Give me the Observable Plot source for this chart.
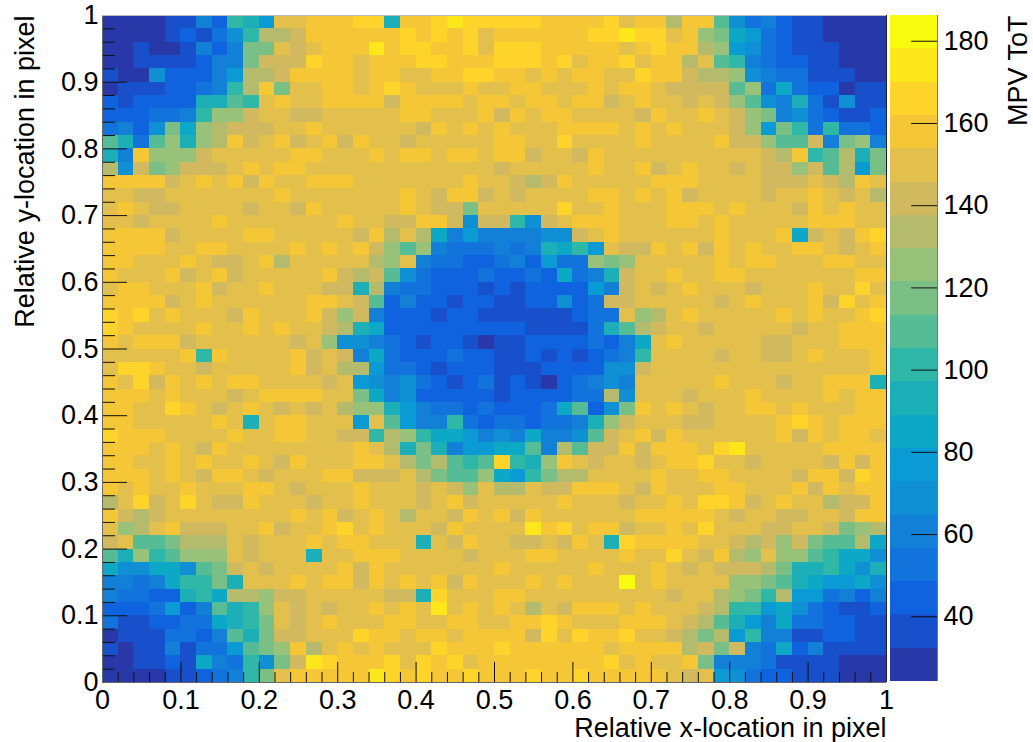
<!DOCTYPE html>
<html><head><meta charset="utf-8">
<style>html,body{margin:0;padding:0;background:#fff}#wrap{position:relative;width:1033px;height:742px;overflow:hidden}#wrap svg{position:absolute;top:0;left:0;background:transparent}</style>
<script src="https://cdn.jsdelivr.net/npm/d3@7"></script>
<script src="https://cdn.jsdelivr.net/npm/@observablehq/plot@0.6"></script>
</head><body><div id="wrap"></div>
<script>
const zMin = 24.26, zStep = 8.1;
const bandCodes = "abcdefghijklmnopqrst";
const bandColors = ["#2838a8","#184fcb","#0f63df","#1373dc","#1380d8","#0f90d5","#0a9bd5","#0ca8c6","#1cafb8","#2fb7a8","#55bc95","#7abf86","#98c179","#b5bb6c","#d0b95e","#e3bf4b","#f5c636","#fed32a","#fce71b","#f9fb0e"];
const bandEdges = bandColors.map((_, i) => zMin + i * zStep).slice(1);
const bandValues = bandColors.map((_, i) => zMin + (i + 0.5) * zStep);
const colorbarTicks = [40, 60, 80, 100, 120, 140, 160, 180];
const majorTicks = [0, 0.1, 0.2, 0.3, 0.4, 0.5, 0.6, 0.7, 0.8, 0.9, 1];
const minorTicks = d3.range(0, 51).map(i => i / 50);
const binCount = 50;
// Rows from the top of the map down; each letter is the colour band read for one cell.
const mapRows = [
"aaaabbecjigppqqqrriqq rsrrrrrqqqqrpqqnqqkfd ecbbaaaa",
"aaaabcbdfjnnoqqqqqqrq rqrpqqqqqqrrsrrpqmlhg dcbbaaaa",
"aabaabecellpopqqqsqrr qqrprrrqqqqqpqrqqnmgf dcbbbaaa",
"aabbbbceelooorqqpqqqr rqqqrrrqrpqqrpqqnpkje dccbbaaa",
"baafcccegnnoqqqqpqqpp qqrrqqpqpqqpprqqonnmf eddbbbaa",
"abbbccdejnqlppqqpqrqp ppqppqqpppqpqqpooookm dhdccabb",
"cbcccciikjpqppqqqqoqq qqpqqpqqpqqopqppopomk feidbfbb",
"cccddejmmoppoopppppqq pppqoqpqqppppoqppqpom lefdcbbc",
"decflhmnoooppqppppppo qpqpqpppqqqqpqpqpppom gljdjddc",
"kidkmimnqopqopqoqppop ppppqqpprppppqppppqoo mkkoelme",
"ieqmmmopppppqqpppqpqq pqqpqqoppoqpppppppppp onqjknil",
"nfolmooopqpqqpppppppp ppppopppppqppqopqppop oomokngl",
"qqqqopqpqoqppqqqppppp ppqpponoqpppppqqqpppp oooponqp",
"ppoopppppppqpppppppqp oqqopoppppqqpqpqopppp oppqpopn",
"pqpooppppoppoqpppppqp oolppppprppqpppqqqpqp ppoqpqpp",
"ppoppppqpppppppqppooq qofoojfopqqqpppqqpqpp pppqqqpp",
"qqqqoppppqqpppppoqnpn hegeeeeffopqppppppqpp pqhopoqr",
"qqqqppqqppppqpqpqomkm edddedeihjgpooqpqoqpq ppqqpopq",
"qqpppqpoopqnpppppnmpe ddccdecgddmlmpppppqpq qpppqqpp",
"qpppqopqopppppqonokfd cccdccdchdeioppqppqqp ppppppqq",
"pqqpppqoppqpppooinedd cccbcbccccgeopopqpppo pppqpprp",
"qqqqopqppppppqqpokcec cbccbbccfcdoopppppopq pppqorpq",
"rqrpqpppoqpppqomoeccc bccbbbbbbcddpmnpqpppp pqpqppqr",
"rqppppqppqpqpponihccc ccccccbbbbdiknoppoppp ppoppqqq",
"qpqqqoppppppopmffedcb ccbabbccccdcehpqppppp oopppqqq",
"pppppqjqppppqopoehdcc cdccbbcbcbcdejppppopp oopqpppq",
"prrqppopppppqopnngddc bcccbbbccccffoppppppp pppppppq",
"qproqpqpqqppppopgfefd cbcdbcbacdefepppppqpp poppqqqi",
"qqqpqpppopqqqqpplhefc ccccbccccddnfpppopppq ppppqpqq",
"qqpprqpopqpopopnmmige ddcdcccdhkcflqpqpoppq qpqpppqq",
"qqpppppqpipqqpppgpkge ejdcddcddeimopppooppp pqrqpqqq",
"rqqqppppqppqqppoojnmj hhgefeheefkopqoqppppp pqoqpqqp",
"qqqpqpoqppppppppqpnil iegghhkenkooqoqqqprsp ppppqqqq",
"qqppqpqppqpoqpppqqpnl nkjkrjimqpoppopqqrppo ppppoqoq",
"qqqpqpoqqpopppqqooopn lkkmhgjlnnppppqppqqpp ppoqqorq",
"qpqppqpppqqpopppqpppo pompnnpooqqqpoqpppqqp ppqoqpqq",
"nproprpooqpppoppqpppo pqopppppqpppoppqprrqo pqppnooq",
"qonoppppppppqpqopqpnp poqpqoqppppppqqqqqpop pooppoqq",
"pmnpqoooppqoppqrpqppp oqppppsqrpqqoppqprppp ooppolmn",
"opkklnnnpopppqpqqpppi poqppoopoqpirqqqqppon omolkknh",
"kimjkmmmpopppippqqqpp ppopppqqppppqpprpoqnm pmmkjhhf",
"hffhhfklopoppppqoqppp ppppqpppppqpppqpopooo nliijhfi",
"eedehjjlipppqpqqoqpqp qoqpppqpqppptpqppppmm lkihgghf",
"eddccijhnnmoopppppooi rpppqqpppppppppoppnml jnggdece",
"cccdgcekijmpopoppqpqp spqpqpnpoqqqpqppponjj ghfdcbbc",
"dbbccddhijlpopqpppqqp pqqppqqrqpppqqqponkig ehddccbb",
"abbbddcekiloopppr qqpq qpqqqqorprqqrpponlngj eebbccbb",
"babbebddgklmqnpqpqppp rqqqrqqqqqqpqqqqnoloe dhcebbbb",
"aabbcbhedjflosrqqqrpr qrpqqqqqqqqrpqppqleee dbbbbaaa",
"aaaabbcdejlpqqqqqsrqr qqrqqqrqqrqqqqqpopgfd ccbbbaaa"
];

const cells = mapRows.flatMap((row, r) =>
  Array.from(row.replace(/ /g, "")).map((code, c) => ({
    x1: c / binCount, x2: (c + 1) / binCount,
    y1: (binCount - 1 - r) / binCount, y2: (binCount - r) / binCount,
    value: bandValues[bandCodes.indexOf(code)]
  })));
const colorBands = bandValues.map((value, i) => ({ y1: zMin + i * zStep, y2: zMin + (i + 1) * zStep, value }));
const colorOpts = { type: "threshold", domain: bandEdges, range: bandColors };
const font = { fontFamily: "'Liberation Sans', Arial, sans-serif", fontSize: "27px", overflow: "visible" };
const fmt = d => d3.format("~g")(d);
const isMajor = d => Math.abs(d * 10 - Math.round(d * 10)) < 1e-6;

const map = Plot.plot({
  width: 1033, height: 742,
  marginLeft: 102, marginRight: 147, marginTop: 15, marginBottom: 60,
  style: font,
  x: { domain: [0, 1], label: null },
  y: { domain: [0, 1], label: null },
  color: colorOpts,
  marks: [
    Plot.rect(cells, { x1: "x1", x2: "x2", y1: "y1", y2: "y2", fill: "value", shapeRendering: "crispEdges" }),
    Plot.ruleX(minorTicks, { x: d => d, y1: 0, y2: d => isMajor(d) ? 0.03 : 0.015, stroke: "#111", strokeWidth: 1 }),
    Plot.ruleY(minorTicks, { y: d => d, x1: 0, x2: d => isMajor(d) ? 0.032 : 0.0166, stroke: "#111", strokeWidth: 1 }),
    Plot.ruleX([0], { stroke: "#666", strokeWidth: 1 }),
    Plot.ruleX([1], { stroke: "#222", strokeWidth: 1 }),
    Plot.ruleY([0], { stroke: "#666", strokeWidth: 1 }),
    Plot.ruleY([1], { stroke: "#bbb", strokeWidth: 1 }),
    Plot.axisX({ ticks: majorTicks, tickSize: 0, tickPadding: 7, tickFormat: fmt, label: null }),
    Plot.axisY({ ticks: majorTicks, tickSize: 0, tickPadding: 4, tickFormat: fmt, label: null }),
    Plot.text(["Relative x-location in pixel"], { frameAnchor: "bottom-right", textAnchor: "end", dy: 54, text: d => d }),
    Plot.text(["Relative y-location in pixel"], { frameAnchor: "top-left", textAnchor: "end", rotate: -90, dx: -88, dy: 0, text: d => d })
  ]
});

const bar = Plot.plot({
  width: 147, height: 742,
  marginLeft: 4, marginRight: 96, marginTop: 15, marginBottom: 61,
  style: font,
  x: { axis: null, domain: [0, 1] },
  y: { domain: [zMin, zMin + 20 * zStep], label: null, axis: null },
  color: colorOpts,
  marks: [
    Plot.rect(colorBands, { x1: 0, x2: 1, y1: "y1", y2: "y2", fill: "value", shapeRendering: "crispEdges" }),
    Plot.ruleY(colorbarTicks, { y: d => d, x1: 0.45, x2: 1, stroke: "#111", strokeWidth: 1 }),
    Plot.ruleX([1], { stroke: "#777", strokeWidth: 1 }),
    Plot.axisY({ anchor: "right", ticks: colorbarTicks, tickSize: 0, tickPadding: 6, tickFormat: fmt, label: null }),
    Plot.text(["MPV ToT"], { frameAnchor: "top-right", textAnchor: "end", rotate: -90, dx: 70, dy: 0, text: d => d })
  ]
});
bar.style.left = "886px";
const wrap = document.getElementById("wrap");
wrap.appendChild(map);
wrap.appendChild(bar);
</script></body></html>
